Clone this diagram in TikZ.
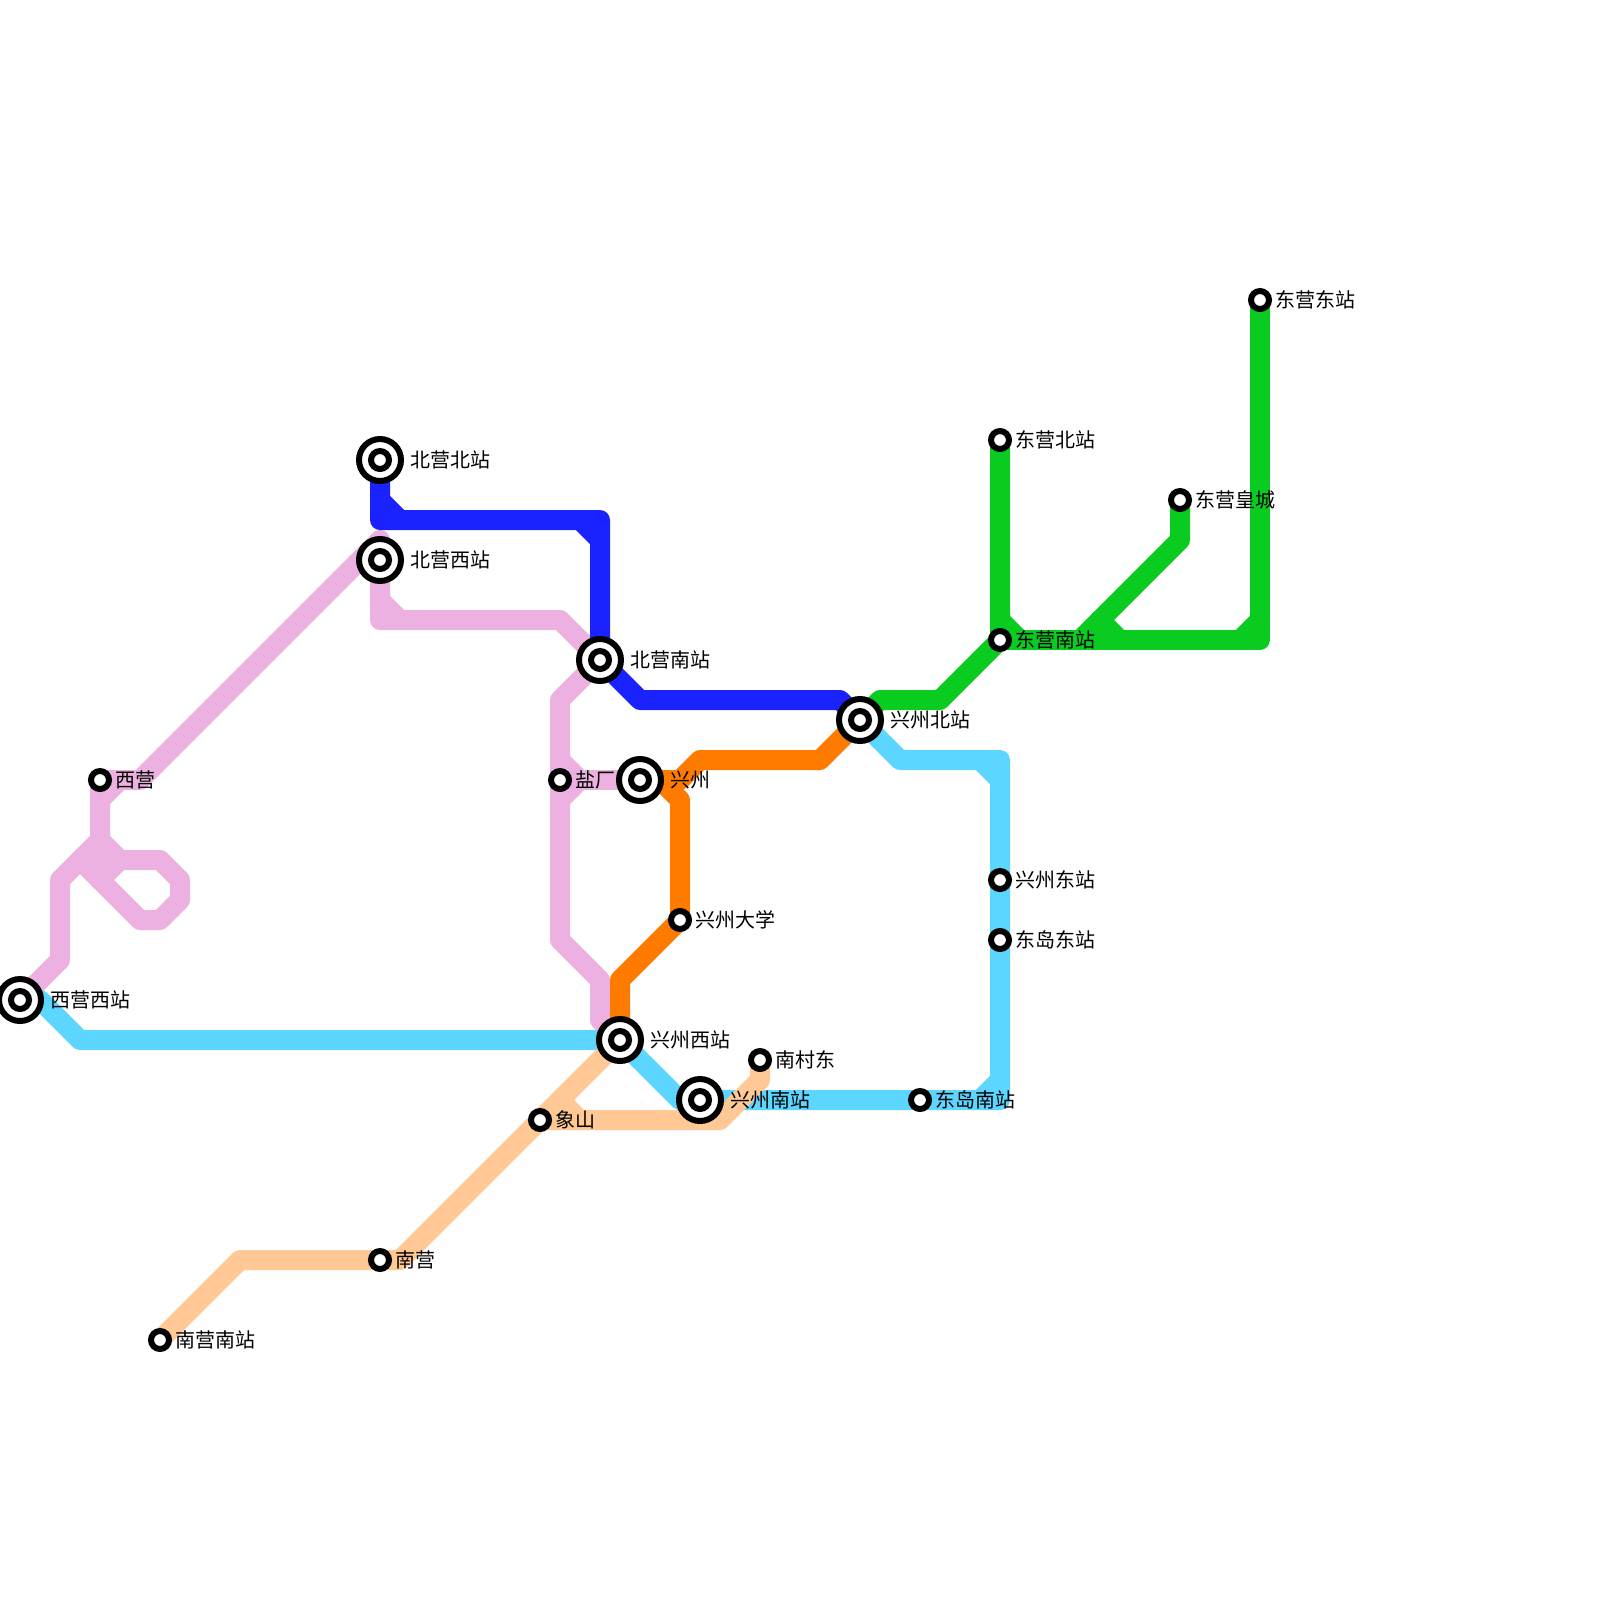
\documentclass[tikz,border=0pt]{standalone}
\usepackage{fontspec}
\setmainfont{Noto Sans CJK SC}
\usetikzlibrary{backgrounds}
\definecolor{lineablue}{HTML}{1A23FF}
\definecolor{lineapink}{HTML}{ECB1E0}
\definecolor{lineacyan}{HTML}{5CD5FF}
\definecolor{lineaorange}{HTML}{FF7B00}
\definecolor{lineagreen}{HTML}{0ACC20}
\definecolor{lineapeach}{HTML}{FFC895}
\tikzset{
  metroline/.style={line width=0.5cm, line cap=round, line join=round},
  bigstn/.style={circle, draw=black, fill=white, line width=0.15cm, outer sep=0pt, minimum size=1.05cm, inner sep=0pt},
  smallstn/.style={circle, draw=black, fill=white, line width=0.15cm, outer sep=0pt, minimum size=0.45cm, inner sep=0pt},
  stnlabel/.style={anchor=west, inner sep=0pt, font=\fontsize{14.2}{14.2}\selectfont}
}
\begin{document}
\begin{tikzpicture}[x=0.5cm, y=-0.5cm]
    \useasboundingbox (0,0) rectangle (80,80);

    % Estaciones grandes
    \node[bigstn] (XiyingXi) at (1,50) {};
    \node[bigstn] (BeiyingBei) at (19,23) {};
    \node[bigstn] (BeiyingXi) at (19,28) {};
    \node[bigstn] (BeiyingNan) at (30,33) {};
    \node[bigstn] (Xingzhou) at (32,39) {};
    \node[bigstn] (XingzhouXi) at (31,52) {};
    \node[bigstn] (XingzhouNan) at (35,55) {};
    \node[bigstn] (XingzhouBei) at (43,36) {};
    \node[smallstn] (XiyingXiIn) at (1,50) {};
    \node[smallstn] (BeiyingBeiIn) at (19,23) {};
    \node[smallstn] (BeiyingXiIn) at (19,28) {};
    \node[smallstn] (BeiyingNanIn) at (30,33) {};
    \node[smallstn] (XingzhouIn) at (32,39) {};
    \node[smallstn] (XingzhouXiIn) at (31,52) {};
    \node[smallstn] (XingzhouNanIn) at (35,55) {};
    \node[smallstn] (XingzhouBeiIn) at (43,36) {};

    % Estaciones pequeñas
    \node[smallstn] (Xiying) at (5,39) {};
    \node[smallstn] (Yanchang) at (28,39) {};
    \node[smallstn] (XingzhouDaxue) at (34,46) {};
    \node[smallstn] (NancunDong) at (38,53) {};
    \node[smallstn] (Xiangshan) at (27,56) {};
    \node[smallstn] (Nanying) at (19,63) {};
    \node[smallstn] (NanyingNan) at (8,67) {};
    \node[smallstn] (DongyingNan) at (50,32) {};
    \node[smallstn] (DongyingBei) at (50,22) {};
    \node[smallstn] (DongyingHuang) at (59,25) {};
    \node[smallstn] (DongyingDong) at (63,15) {};
    \node[smallstn] (XingzhouDong) at (50,44) {};
    \node[smallstn] (DongdaoDong) at (50,47) {};
    \node[smallstn] (DongdaoNan) at (46,55) {};

    \begin{pgfonlayer}{background}
    % Línea rosa
    \draw[metroline, lineapink] (XiyingXi.center) -- (3,48) -- (3,44) -- (5,42) -- (Xiying.center) -- (7,39) -- (19,27) -- (BeiyingXi.center);
    \draw[metroline, lineapink] (5,40) -- (6,39);
    \draw[metroline, lineapink] (5,42) -- (6,43) -- (8,43) -- (9,44) -- (9,45) -- (8,46) -- (7,46) -- (4,43);
    \draw[metroline, lineapink] (5,42) -- (5,44) -- (6,43);
    \draw[metroline, lineapink] (BeiyingXi.center) -- (19,31) -- (28,31) -- (BeiyingNan.center) -- (28,35) -- (Yanchang.center) -- (28,47) -- (30,49) -- (30,51) -- (XingzhouXi.center);
    \draw[metroline, lineapink] (19,30) -- (20,31);
    \draw[metroline, lineapink] (Yanchang.center) -- (Xingzhou.center);
    \draw[metroline, lineapink] (28,38) -- (29,39) -- (28,40);

    % Línea celeste
    \draw[metroline, lineacyan] (XiyingXi.center) -- (2,50) -- (4,52) -- (XingzhouXi.center) -- (34,55) -- (XingzhouNan.center) -- (DongdaoNan.center) -- (50,55) -- (DongdaoDong.center) -- (XingzhouDong.center) -- (50,38) -- (45,38) -- (XingzhouBei.center);
    \draw[metroline, lineacyan] (49,55) -- (50,54);
    \draw[metroline, lineacyan] (49,38) -- (50,39);

    % Línea melocotón
    \draw[metroline, lineapeach] (NanyingNan.center) -- (12,63) -- (Nanying.center) -- (20,63) -- (XingzhouXi.center);
    \draw[metroline, lineapeach] (Xiangshan.center) -- (36,56) -- (38,54) -- (NancunDong.center);
    \draw[metroline, lineapeach] (28,55) -- (29,56);

    % Línea naranja
    \draw[metroline, lineaorange] (Xingzhou.center) -- (34,39) -- (35,38) -- (41,38) -- (XingzhouBei.center);
    \draw[metroline, lineaorange] (33,39) -- (34,40) -- (XingzhouDaxue.center) -- (31,49) -- (XingzhouXi.center);

    % Línea azul
    \draw[metroline, lineablue] (BeiyingBei.center) -- (19,26) -- (30,26) -- (BeiyingNan.center) -- (32,35) -- (42,35) -- (XingzhouBei.center);
    \draw[metroline, lineablue] (19,25) -- (20,26);
    \draw[metroline, lineablue] (29,26) -- (30,27);

    % Línea verde
    \draw[metroline, lineagreen] (XingzhouBei.center) -- (44,35) -- (47,35) -- (DongyingNan.center) -- (DongyingBei.center);
    \draw[metroline, lineagreen] (50,31) -- (51,32);
    \draw[metroline, lineagreen] (DongyingNan.center) -- (63,32) -- (DongyingDong.center);
    \draw[metroline, lineagreen] (62,32) -- (63,31);
    \draw[metroline, lineagreen] (54,32) -- (59,27) -- (DongyingHuang.center);
    \draw[metroline, lineagreen] (55,31) -- (56,32);
    \end{pgfonlayer}

    % Etiquetas
    \node[stnlabel] (tXiyingXi) at (2.5,50) {西营西站};
    \node[stnlabel] (tBeiyingBei) at (20.5,23) {北营北站};
    \node[stnlabel] (tBeiyingXi) at (20.5,28) {北营西站};
    \node[stnlabel] (tBeiyingNan) at (31.5,33) {北营南站};
    \node[stnlabel] (tXingzhou) at (33.5,39) {兴州};
    \node[stnlabel] (tXingzhouXi) at (32.5,52) {兴州西站};
    \node[stnlabel] (tXingzhouNan) at (36.5,55) {兴州南站};
    \node[stnlabel] (tXingzhouBei) at (44.5,36) {兴州北站};
    \node[stnlabel] (tXiying) at (5.75,39) {西营};
    \node[stnlabel] (tYanchang) at (28.75,39) {盐厂};
    \node[stnlabel] (tXingzhouDaxue) at (34.75,46) {兴州大学};
    \node[stnlabel] (tNancunDong) at (38.75,53) {南村东};
    \node[stnlabel] (tXiangshan) at (27.75,56) {象山};
    \node[stnlabel] (tNanying) at (19.75,63) {南营};
    \node[stnlabel] (tNanyingNan) at (8.75,67) {南营南站};
    \node[stnlabel] (tDongyingNan) at (50.75,32) {东营南站};
    \node[stnlabel] (tDongyingBei) at (50.75,22) {东营北站};
    \node[stnlabel] (tDongyingHuang) at (59.75,25) {东营皇城};
    \node[stnlabel] (tDongyingDong) at (63.75,15) {东营东站};
    \node[stnlabel] (tXingzhouDong) at (50.75,44) {兴州东站};
    \node[stnlabel] (tDongdaoDong) at (50.75,47) {东岛东站};
    \node[stnlabel] (tDongdaoNan) at (46.75,55) {东岛南站};
\end{tikzpicture}
\end{document}
